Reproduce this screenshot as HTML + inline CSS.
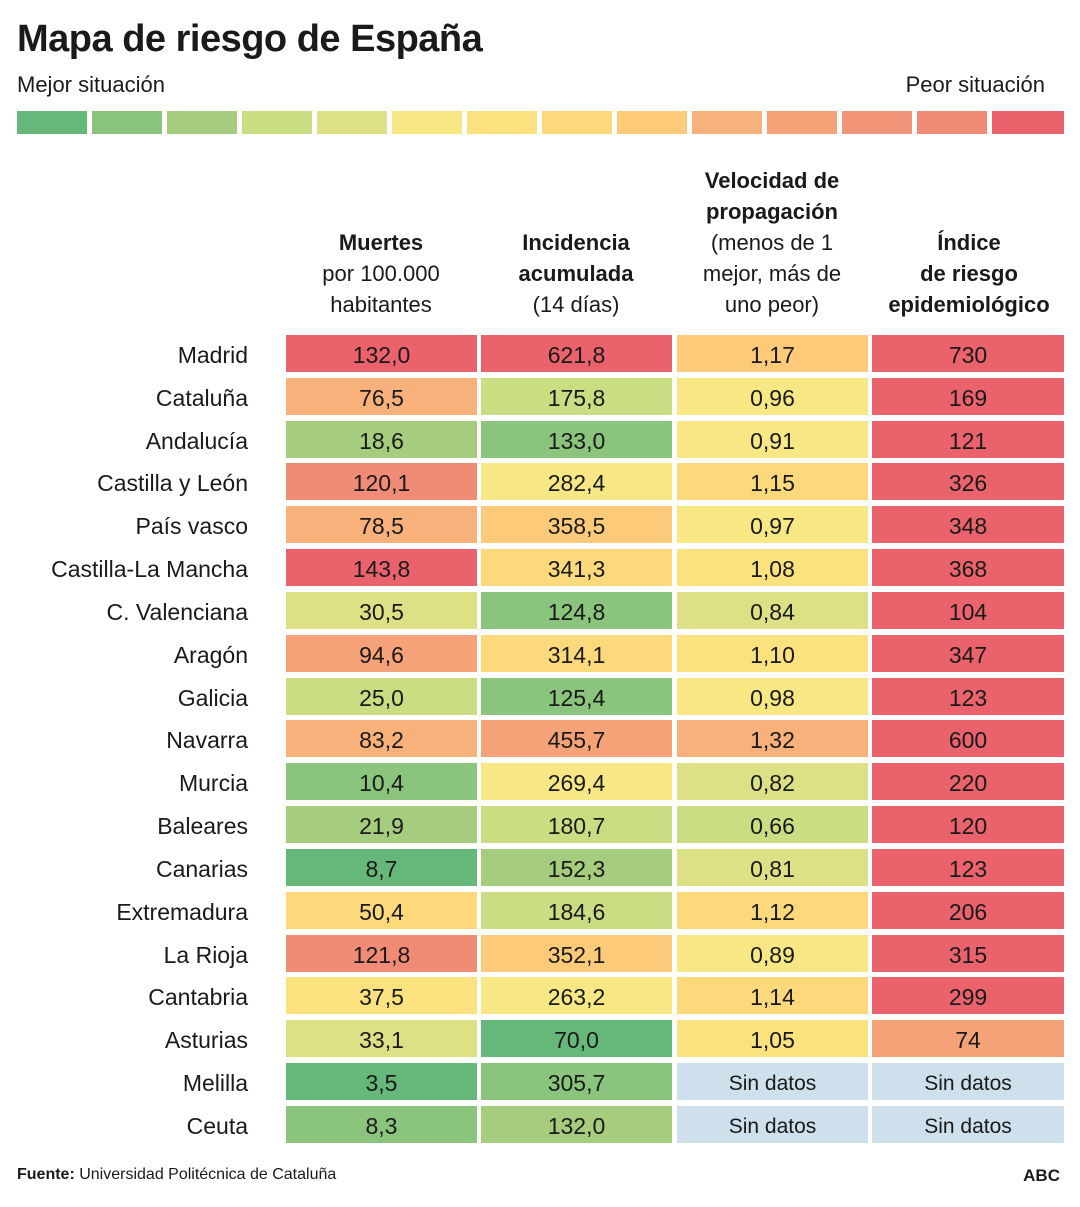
<!DOCTYPE html>
<html><head><meta charset="utf-8">
<style>
body{margin:0;width:1080px;height:1207px;background:#fff;position:relative;overflow:hidden;font-family:"Liberation Sans",sans-serif;color:#1a1a1a}
.abs{position:absolute}
#title{left:17px;top:18px;font-size:38px;font-weight:bold;letter-spacing:-0.5px}
.sub{top:72px;font-size:22px}
.sw{top:111px;height:23px}
.hdr{top:160px;width:194px;height:160px;display:flex;flex-direction:column;justify-content:flex-end;text-align:center;font-size:22px;line-height:31px}
.lbl{left:0;width:248px;text-align:right;font-size:23px;height:37px;line-height:40px}
.cell{height:37px;line-height:40px;text-align:center;font-size:23px}
.sd{font-size:21px;line-height:42px}
#src{left:17px;top:1166px;font-size:16px}
#abc{right:20px;top:1166px;font-size:17px;font-weight:bold}
</style></head>
<body>
<div class="abs" id="title">Mapa de riesgo de España</div>
<div class="abs sub" style="left:17px">Mejor situación</div>
<div class="abs sub" style="right:35px">Peor situación</div>
<div id="scale"></div>
<div class="abs hdr" style="left:284px"><div><b>Muertes</b><br>por 100.000<br>habitantes</div></div>
<div class="abs hdr" style="left:479px"><div><b>Incidencia<br>acumulada</b><br>(14 días)</div></div>
<div class="abs hdr" style="left:675px"><div><b>Velocidad de<br>propagación</b><br>(menos de 1<br>mejor, más de<br>uno peor)</div></div>
<div class="abs hdr" style="left:870px;width:198px"><div><b>Índice<br>de riesgo<br>epidemiológico</b></div></div>
<div id="table"></div>
<div class="abs" id="src"><b>Fuente:</b> Universidad Politécnica de Cataluña</div>
<div class="abs" id="abc">ABC</div>
<script>
const palette=["#66b77a","#8bc47c","#a6cc7e","#cbdd82","#dde185","#f7e885","#fbe27f","#fdd97b","#fdca7a","#f8b17a","#f6a278","#f29478","#f08c76","#ea636c"];
const regions=["Madrid","Cataluña","Andalucía","Castilla y León","País vasco","Castilla-La Mancha","C. Valenciana","Aragón","Galicia","Navarra","Murcia","Baleares","Canarias","Extremadura","La Rioja","Cantabria","Asturias","Melilla","Ceuta"];
const deaths=["132,0","76,5","18,6","120,1","78,5","143,8","30,5","94,6","25,0","83,2","10,4","21,9","8,7","50,4","121,8","37,5","33,1","3,5","8,3"];
const deathsLvl=[13,9,2,12,9,13,4,10,3,9,1,2,0,7,12,6,4,0,1];
const incidence=["621,8","175,8","133,0","282,4","358,5","341,3","124,8","314,1","125,4","455,7","269,4","180,7","152,3","184,6","352,1","263,2","70,0","305,7","132,0"];
const incidenceLvl=[13,3,1,5,8,7,1,7,1,10,5,3,2,3,8,5,0,1,2];
const speed=["1,17","0,96","0,91","1,15","0,97","1,08","0,84","1,10","0,98","1,32","0,82","0,66","0,81","1,12","0,89","1,14","1,05",null,null];
const speedLvl=[8,5,5,7,5,6,4,6,5,9,4,3,4,7,5,7,6,-1,-1];
const risk=["730","169","121","326","348","368","104","347","123","600","220","120","123","206","315","299","74",null,null];
const riskLvl=[13,13,13,13,13,13,13,13,13,13,13,13,13,13,13,13,10,-1,-1];
const scale=document.getElementById('scale');
palette.forEach((c,i)=>{const d=document.createElement('div');d.className='abs sw';


d.style.left=(17+i*75)+'px';d.style.width=(i==13?72:70)+'px';d.style.background=c;scale.appendChild(d);});
const table=document.getElementById('table');
const cols=[[deaths,deathsLvl,286],[incidence,incidenceLvl,481],[speed,speedLvl,677],[risk,riskLvl,872]];
const colNames=['deaths-cell','incidence-cell','speed-cell','risk-cell'];
regions.forEach((r,i)=>{const y=335+i*42.83;
const l=document.createElement('div');l.className='abs lbl';l.style.top=y+'px';l.textContent=r;


table.appendChild(l);
cols.forEach((c,j)=>{const d=document.createElement('div');d.className='abs cell';


d.style.left=c[2]+'px';d.style.top=y+'px';d.style.width=(j==3?192:191)+'px';
const v=c[0][i];if(v===null){d.textContent='Sin datos';d.classList.add('sd');d.style.background='#cde0eb';}
else{d.textContent=v;d.style.background=palette[c[1][i]];}
table.appendChild(d);});});
</script>
</body></html>
